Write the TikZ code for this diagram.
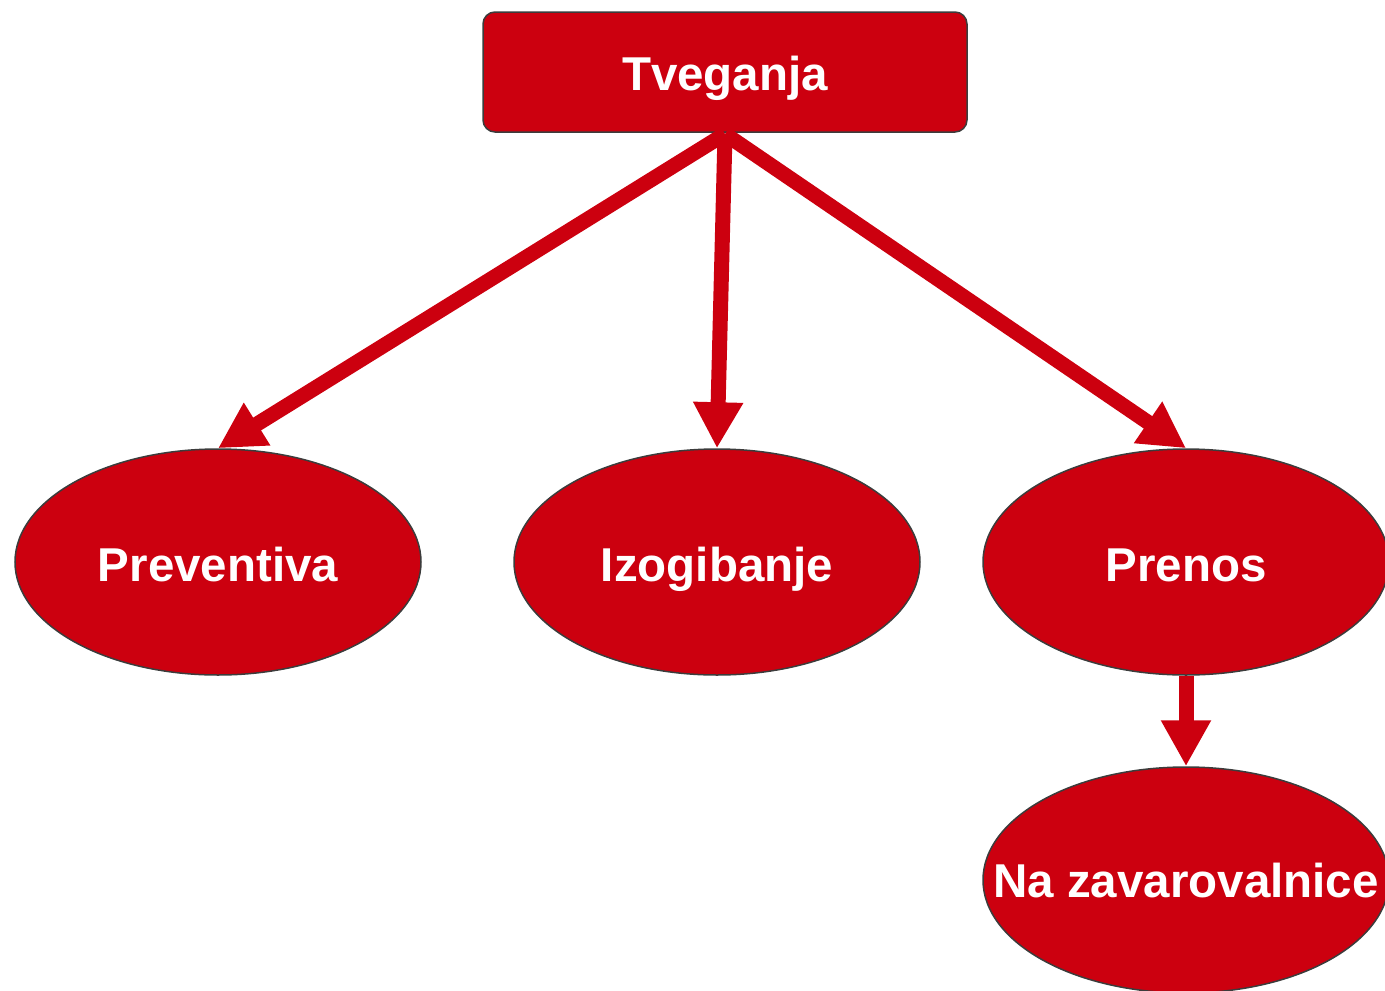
\documentclass[tikz,border=0pt]{standalone}
\usepackage{fontspec}
\setmainfont{Liberation Sans}
\usetikzlibrary{shapes.geometric,arrows.meta}
\definecolor{boxred}{RGB}{204,0,15}
\definecolor{edgegray}{RGB}{60,60,60}
\tikzset{
  topbox/.style={draw=edgegray, line width=1.5pt, fill=boxred, rounded corners=12pt,
    minimum width=484pt, minimum height=120pt, inner sep=0pt},
  oval/.style={ellipse, draw=edgegray, line width=1.5pt, fill=boxred,
    minimum width=406pt, minimum height=226pt, inner sep=0pt},
  ovaltext/.style={text=white, font=\bfseries\fontsize{47.5}{56}\selectfont, inner sep=0pt, anchor=base},
  link/.style={draw=boxred, line width=15pt, -{Triangle[width=47pt,length=46pt]}}
}
\begin{document}
\begin{tikzpicture}[x=1pt,y=-1pt]
\useasboundingbox (0,0) rectangle (1385,991);
\node[topbox] (tv) at (725,72) {};
\node[ovaltext] (tvt) at ([yshift=-18pt]tv.center) {Tveganja};
\node[oval] (pr) at (218,562) {};
\node[ovaltext] (prt) at ([yshift=-19pt]pr.center) {Preventiva};
\node[oval] (iz) at (717,562) {};
\node[ovaltext] (izt) at ([yshift=-19pt]iz.center) {Izogibanje};
\node[oval] (pn) at (1186,562) {};
\node[ovaltext] (pnt) at ([yshift=-19pt]pn.center) {Prenos};
\node[oval] (na) at (1186,880) {};
\node[ovaltext] (nat) at ([yshift=-17pt]na.center) {Na zavarovalnice};
\coordinate (src) at (725,134);
\path[link] (src) -- (pr.north);
\path[link] (src) -- (iz.north);
\path[link] (src) -- (pn.north);
\path[link] (pn.south) -- (na.north);
\end{tikzpicture}
\end{document}
